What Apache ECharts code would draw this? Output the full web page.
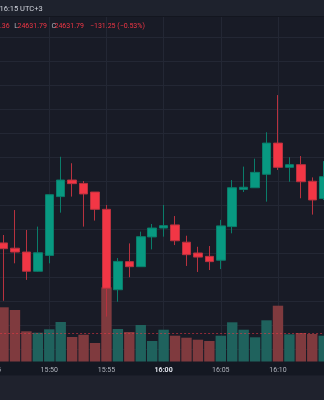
<!DOCTYPE html>
<html>
<head>
<meta charset="utf-8">
<script src="https://cdn.jsdelivr.net/npm/echarts@6/dist/echarts.min.js"></script>
<style>
html,body{margin:0;padding:0;background:#181b26;}
#chart{width:324px;height:400px;}
</style>
</head>
<body>
<div id="chart"></div>
<script>
// ---- data ----
const times = ['15:46','15:47','15:48','15:49','15:50','15:51','15:52','15:53','15:54','15:55',
  '15:56','15:57','15:58','15:59','16:00','16:01','16:02','16:03','16:04','16:05',
  '16:06','16:07','16:08','16:09','16:10','16:11','16:12','16:13','16:14'];
const opens = [24664.2,24662.0,24660.4,24652.4,24659.0,24683.5,24690.4,24689.0,24685.4,24678.2,
  24644.7,24656.4,24654.3,24666.7,24670.4,24671.7,24664.5,24660.0,24658.6,24657.0,
  24671.0,24686.5,24687.2,24692.8,24705.8,24695.7,24696.8,24689.9,24682.7];
const closes = [24661.8,24660.4,24652.4,24660.1,24684.3,24690.4,24688.9,24684.6,24678.2,24645.3,
  24656.5,24654.3,24666.8,24670.4,24671.4,24665.1,24659.3,24658.3,24656.4,24671.3,
  24687.2,24687.4,24693.6,24705.8,24695.7,24696.8,24689.7,24682.1,24691.8];
const lows = [24640.1,24655.7,24648.8,24652.2,24655.7,24676.8,24683.5,24671.0,24673.5,24633.5,
  24639.7,24649.9,24654.3,24661.5,24666.8,24663.3,24654.6,24652.1,24652.9,24653.3,
  24668.2,24685.4,24687.2,24681.4,24694.6,24689.7,24682.8,24676.0,24682.1];
const highs = [24667.5,24677.9,24669.6,24671.0,24684.3,24700.1,24697.4,24690.0,24685.4,24680.0,
  24657.9,24664.0,24668.9,24672.1,24680.0,24675.4,24667.2,24662.6,24662.9,24673.8,
  24690.4,24696.0,24699.3,24710.3,24725.8,24699.9,24700.4,24691.5,24698.3];
const volumes = [1084,1030,604,576,644,790,490,536,370,1484,
  650,590,730,410,636,516,476,436,410,516,
  784,636,484,824,1116,544,570,550,516];
const tickLabels = ['15:45','15:50','15:55','16:00','16:05','16:10','16:15'];
const priceLine = 24626.7;
const headerText = '16:15 UTC+3';
const legendParts = [
  {t:'.36', c:'r'}, {t:'L', c:'g'}, {t:'24631.79', c:'r'}, {t:'C', c:'g'}, {t:'24631.79', c:'r'},
  {t:'\u2212131.25 (\u22120.53%)', c:'r'}
];

// ---- helpers ----
const startMin = 15*60+45;
const toX = s => { const [h,m] = s.split(':').map(Number); return h*60+m-startMin; };
const UP = '#089981', DOWN = '#f23645';
const candleData = times.map((t,i) => [toX(t), opens[i], closes[i], lows[i], highs[i]]);
const volData = times.map((t,i) => ({
  value: [toX(t), volumes[i]],
  itemStyle: { color: closes[i] >= opens[i] ? '#1f625d' : '#7f3a3e' }
}));

const FONT = 'Roboto, "Noto Sans", sans-serif';
const pxPerMin = 11.435;
const gridLeft = -7.9;
const xMax = 29.5;
const gridW = xMax * pxPerMin;
const gridColor = '#232734';

const legendX = [0, 14.3, 17.5, 51.5, 54.5, 90];

const chart = echarts.init(document.getElementById('chart'), null, {renderer:'canvas'});
chart.setOption({
  backgroundColor: '#181b26',
  animation: false,
  textStyle: { fontFamily: FONT },
  grid: [
    { left: gridLeft, top: 13, width: gridW, height: 336, containLabel:false, outerBoundsMode:'none' },
    { left: gridLeft, top: 241.5, width: gridW, height: 120, containLabel:false, outerBoundsMode:'none' }
  ],
  xAxis: [
    { type:'value', gridIndex:0, min:0, max:xMax, interval:5,
      axisLine:{show:false}, axisTick:{show:false}, axisLabel:{show:false},
      splitLine:{show:true, lineStyle:{color:gridColor, width:1}} },
    { type:'value', gridIndex:1, min:0, max:xMax, interval:5,
      axisLine:{show:false}, axisTick:{show:false},
      splitLine:{show:true, lineStyle:{color:gridColor, width:1}},
      axisLabel:{ show:true, margin:5, fontSize:7, fontFamily:FONT, color:'#b2b5be',
        showMaxLabel:false, showMinLabel:true, hideOverlap:false,
        formatter: v => { const s = tickLabels[Math.round(v/5)]; if (v % 5 !== 0 || !s) return ''; return s.endsWith(':00') ? '{b|'+s+'}' : s; },
        rich: { b: { fontSize:7, fontWeight:'bold', color:'#e0e3eb', fontFamily:FONT } } } }
  ],
  yAxis: [
    { type:'value', gridIndex:0, min:24620, max:24760, interval:10, position:'right',
      axisLine:{show:false}, axisTick:{show:false}, axisLabel:{show:false},
      splitLine:{show:true, lineStyle:{color:gridColor, width:1}} },
    { type:'value', gridIndex:1, min:0, max:2400, show:false, splitLine:{show:false} }
  ],
  series: [
    { type:'bar', xAxisIndex:1, yAxisIndex:1, data: volData, barWidth: 10.4, z: 1 },
    { type:'candlestick', xAxisIndex:0, yAxisIndex:0, barWidth: 9, z: 3,
      encode: { x: 0, y: [1,2,3,4] },
      data: candleData,
      itemStyle: { color: UP, color0: DOWN, borderColor: '#0a7d6a', borderColor0: '#b8323f', borderWidth: 1 },
      markLine: { silent:true, symbol:['none','none'], label:{show:false},
        lineStyle:{ color:'rgba(242,54,69,0.55)', type:[2,2], width:1 },
        data: [ { yAxis: priceLine } ] }
    }
  ],
  graphic: [
    { type:'rect', z:-1, shape:{x:0, y:361.5, width:324, height:14}, style:{fill:'#141822'} },
    { type:'rect', z:-1, shape:{x:0, y:375.5, width:324, height:25}, style:{fill:'#1f222d'} },
    { type:'rect', z:50, shape:{x:0, y:0, width:324, height:16}, style:{fill:'#1e222d'} },
    { type:'rect', z:50, shape:{x:0, y:16, width:324, height:1}, style:{fill:'#13161f'} },
    { type:'text', z:51, x:-0.5, y:9.5, style:{ text: headerText, fill:'#d1d4dc', fontSize:7.5, fontFamily:FONT, verticalAlign:'middle' } }
  ].concat(legendParts.map((p,i) => ({
    type:'text', z:51, x: legendX[i], y: 25.8,
    style:{ text:p.t, fill: p.c === 'r' ? '#f23645' : '#b2b5be', fontSize:7, fontFamily:FONT, verticalAlign:'middle' }
  })))
});
</script>
</body>
</html>
